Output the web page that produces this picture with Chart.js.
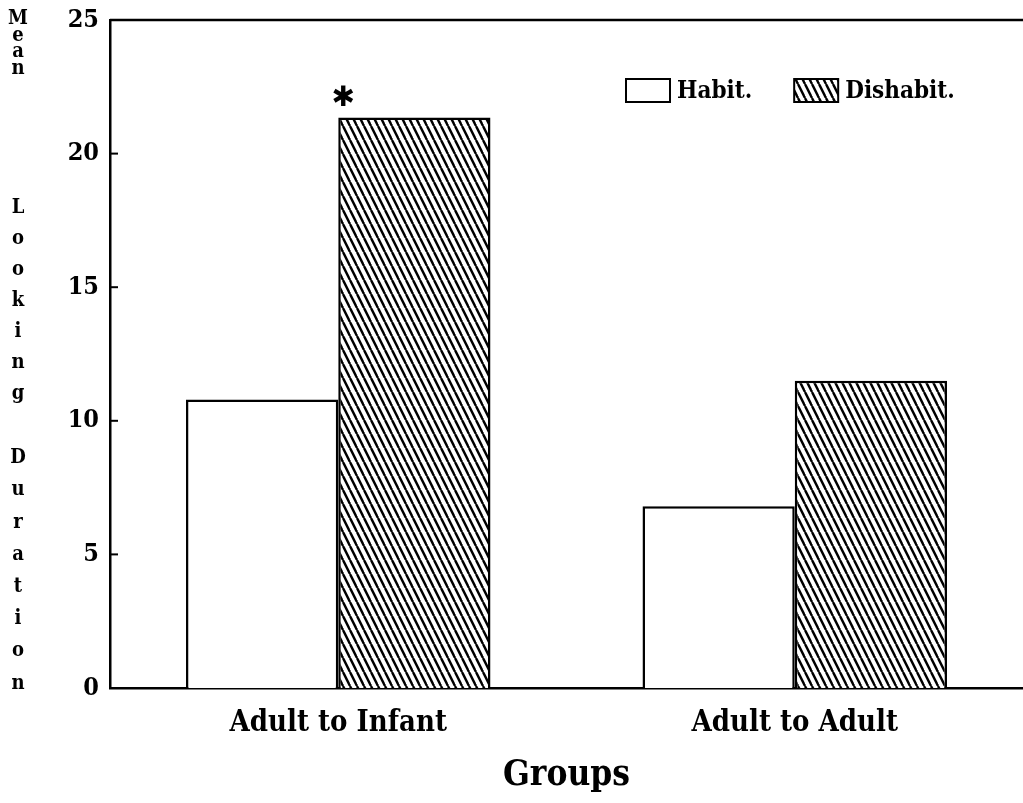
<!DOCTYPE html>
<html>
<head>
<meta charset="utf-8">
<script src="https://cdn.jsdelivr.net/npm/chart.js@4.4.1/dist/chart.umd.min.js"></script>
<style>
    html, body { margin: 0; background: #fff; }
    #wrap { width: 1023px; height: 803px; }
</style>
</head>
<body>
<div id="wrap"><canvas id="chart" width="1023" height="803"></canvas></div>
<script>
// Data
const groups = ['Adult to Infant', 'Adult to Adult'];
const seriesLabels = ['Habit.', 'Dishabit.'];
const habitValues = [10.8, 6.8];
const dishabitValues = [21.35, 11.5];
const yTicks = [0, 5, 10, 15, 20, 25];
const yTitleWords = ['Mean', 'Looking', 'Duration'];
const xTitle = 'Groups';
const markText = '\u2731';   // significance mark over the first Dishabit. bar

const FONT = "'DejaVu Serif Condensed', 'DejaVu Serif', serif";

Chart.defaults.color = '#000';
Chart.defaults.font.family = FONT;
Chart.defaults.font.weight = 'bold';

// Diagonal hatch, lines running down to the right
function makeHatch() {
    const tile = document.createElement('canvas');
    tile.width = 7;
    tile.height = 14;
    const c = tile.getContext('2d');
    c.fillStyle = '#fff';
    c.fillRect(0, 0, 7, 14);
    c.strokeStyle = '#000';
    c.lineWidth = 2.4;
    for (let k = -1; k <= 1; k++) {
        c.beginPath();
        c.moveTo(k * 7, 0);
        c.lineTo(k * 7 + 7, 14);
        c.stroke();
    }
    return document.getElementById('chart').getContext('2d').createPattern(tile, 'repeat');
}

const hatch = makeHatch();

// Frame, inward ticks, legend, star and stacked axis title
const decorPlugin = {
    id: 'decor',
    afterDraw(chart) {
        const ctx = chart.ctx;
        const area = chart.chartArea;
        const yScale = chart.scales.y;
        ctx.save();
        ctx.strokeStyle = '#000';
        ctx.lineWidth = 2.5;

        // top border
        ctx.beginPath();
        ctx.moveTo(area.left, area.top);
        ctx.lineTo(area.right, area.top);
        ctx.stroke();

        // ticks pointing into the plot
        ctx.lineWidth = 2;
        yTicks.forEach(v => {
            const py = yScale.getPixelForValue(v);
            ctx.beginPath();
            ctx.moveTo(area.left, py);
            ctx.lineTo(area.left + 8, py);
            ctx.stroke();
        });

        // legend
        ctx.font = `bold 24px ${FONT}`;
        ctx.textBaseline = 'middle';
        ctx.textAlign = 'left';
        let lx = 626;
        const ly = 79;
        chart.data.datasets.forEach(ds => {
            ctx.fillStyle = ds.backgroundColor;
            ctx.fillRect(lx, ly, 44, 23);
            ctx.strokeRect(lx, ly, 44, 23);
            ctx.fillStyle = '#000';
            ctx.fillText(ds.label, lx + 51, ly + 13);
            lx += 51 + ctx.measureText(ds.label).width + 42;
        });

        // significance mark
        const bar = chart.getDatasetMeta(1).data[0];
        ctx.font = `bold 28px 'DejaVu Sans', sans-serif`;
        ctx.textAlign = 'center';
        ctx.fillText(markText, bar.x - bar.width / 2 + 5, bar.y - 19);

        // stacked y title
        ctx.font = `bold 20px ${FONT}`;
        const starts = [19, 208, 458];
        const steps = [16.5, 31, 32.2];
        yTitleWords.forEach((word, w) => {
            word.split('').forEach((ch, i) => {
                ctx.fillText(ch, 18, starts[w] + i * steps[w]);
            });
        });
        ctx.restore();
    }
};

new Chart(document.getElementById('chart'), {
    type: 'bar',
    data: {
        labels: groups,
        datasets: [
            {
                label: seriesLabels[0],
                data: habitValues,
                backgroundColor: '#fff',
                borderColor: '#000',
                borderWidth: 2.5
            },
            {
                label: seriesLabels[1],
                data: dishabitValues,
                backgroundColor: hatch,
                borderColor: '#000',
                borderWidth: 2.5
            }
        ]
    },
    options: {
        responsive: false,
        animation: false,
        devicePixelRatio: 1,
        layout: { padding: { top: 20, right: 0, bottom: 0, left: 0 } },
        datasets: {
            bar: { categoryPercentage: 0.667, barPercentage: 1.0 }
        },
        plugins: {
            legend: { display: false },
            tooltip: { enabled: false }
        },
        scales: {
            x: {
                grid: { display: false, drawTicks: false },
                border: { display: true, color: '#000', width: 2.5 },
                ticks: { font: { size: 29, weight: 'bold' }, padding: 18 },
                title: {
                    display: true,
                    text: xTitle,
                    font: { size: 35, weight: 'bold' },
                    padding: { top: 0, bottom: 6 }
                },
                afterFit: s => { s.height = 115; }
            },
            y: {
                min: 0,
                max: 25,
                afterBuildTicks: s => { s.ticks = yTicks.map(v => ({ value: v })); },
                grid: { display: false, drawTicks: false },
                border: { display: true, color: '#000', width: 2.5 },
                ticks: { font: { size: 25, weight: 'bold' }, padding: 11 },
                afterFit: s => { s.width = 110; s.paddingTop = 0; }
            }
        }
    },
    plugins: [decorPlugin]
});
</script>
</body>
</html>
